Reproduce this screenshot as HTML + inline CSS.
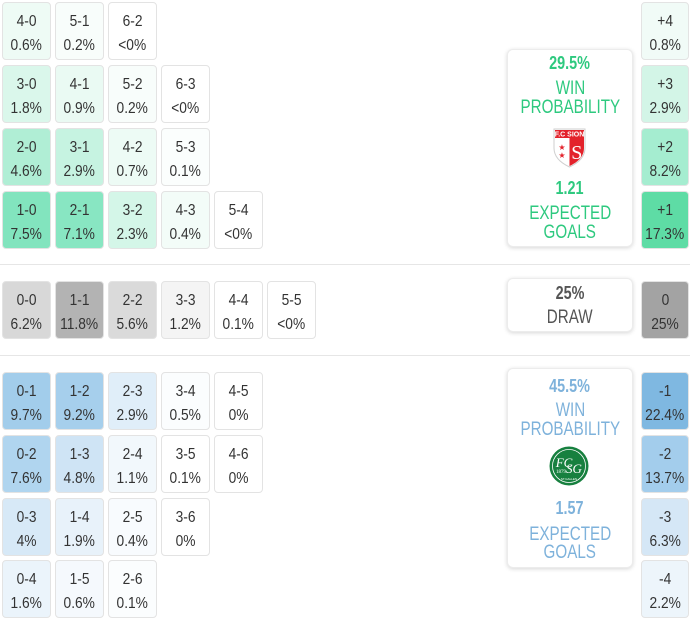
<!DOCTYPE html>
<html><head><meta charset="utf-8">
<style>
html,body{margin:0;padding:0;background:#fff;}
body{width:690px;height:621px;position:relative;overflow:hidden;font-family:"Liberation Sans",Arial,sans-serif;}
.c{position:absolute;width:49px;height:58px;box-sizing:border-box;border:1px solid #e3e3e3;border-radius:4px;text-align:center;color:#333;font-size:16px;line-height:24px;padding-top:7px;}
.c span{display:inline-block;transform:scaleX(.86);}
.r{width:48px;}
.sep{position:absolute;left:0;width:690px;height:1px;background:#e6e6e6;}
.box{position:absolute;left:507px;width:126px;box-sizing:border-box;background:#fff;border:1px solid #ececec;border-radius:6px;box-shadow:0 1px 4px rgba(0,0,0,.16);}
.t{position:absolute;left:507px;width:126px;text-align:center;white-space:nowrap;}
.t span{display:inline-block;transform:scaleX(.8);}
.g{color:#2ec97f;}
.b{color:#7eb2db;}
.k{color:#555;}
.big{font-size:18px;font-weight:bold;line-height:20px;}
.lab{font-size:19px;line-height:20px;}
</style></head><body>

<!-- home win rows -->
<div class="c" style="left:2px;top:2px;background:#eefbf5"><span>4-0</span><br><span>0.6%</span></div>
<div class="c" style="left:55px;top:2px;background:#f8fdfb"><span>5-1</span><br><span>0.2%</span></div>
<div class="c" style="left:108px;top:2px;background:#fff"><span>6-2</span><br><span>&lt;0%</span></div>

<div class="c" style="left:2px;top:65px;background:#daf7eb"><span>3-0</span><br><span>1.8%</span></div>
<div class="c" style="left:55px;top:65px;background:#eafaf3"><span>4-1</span><br><span>0.9%</span></div>
<div class="c" style="left:108px;top:65px;background:#f8fdfb"><span>5-2</span><br><span>0.2%</span></div>
<div class="c" style="left:161px;top:65px;background:#fff"><span>6-3</span><br><span>&lt;0%</span></div>

<div class="c" style="left:2px;top:128px;background:#b0eed5"><span>2-0</span><br><span>4.6%</span></div>
<div class="c" style="left:55px;top:128px;background:#c6f3e1"><span>3-1</span><br><span>2.9%</span></div>
<div class="c" style="left:108px;top:128px;background:#edfbf5"><span>4-2</span><br><span>0.7%</span></div>
<div class="c" style="left:161px;top:128px;background:#fbfefd"><span>5-3</span><br><span>0.1%</span></div>

<div class="c" style="left:2px;top:191px;background:#82e4be"><span>1-0</span><br><span>7.5%</span></div>
<div class="c" style="left:55px;top:191px;background:#88e6c2"><span>2-1</span><br><span>7.1%</span></div>
<div class="c" style="left:108px;top:191px;background:#d4f6e8"><span>3-2</span><br><span>2.3%</span></div>
<div class="c" style="left:161px;top:191px;background:#f3fcf8"><span>4-3</span><br><span>0.4%</span></div>
<div class="c" style="left:214px;top:191px;background:#fff"><span>5-4</span><br><span>&lt;0%</span></div>

<!-- right green -->
<div class="c r" style="left:641px;top:2px;background:#f1fbf7"><span>+4</span><br><span>0.8%</span></div>
<div class="c r" style="left:641px;top:65px;background:#d3f5e7"><span>+3</span><br><span>2.9%</span></div>
<div class="c r" style="left:641px;top:128px;background:#a5edd0"><span>+2</span><br><span>8.2%</span></div>
<div class="c r" style="left:641px;top:191px;background:#5edca5"><span>+1</span><br><span>17.3%</span></div>

<div class="sep" style="top:264px"></div>

<!-- draws -->
<div class="c" style="left:2px;top:281px;background:#d8d8d8"><span>0-0</span><br><span>6.2%</span></div>
<div class="c" style="left:55px;top:281px;background:#b3b3b3"><span>1-1</span><br><span>11.8%</span></div>
<div class="c" style="left:108px;top:281px;background:#dadada"><span>2-2</span><br><span>5.6%</span></div>
<div class="c" style="left:161px;top:281px;background:#f4f4f4"><span>3-3</span><br><span>1.2%</span></div>
<div class="c" style="left:214px;top:281px;background:#fff"><span>4-4</span><br><span>0.1%</span></div>
<div class="c" style="left:267px;top:281px;background:#fff"><span>5-5</span><br><span>&lt;0%</span></div>
<div class="c r" style="left:641px;top:281px;background:#a3a3a3"><span>0</span><br><span>25%</span></div>

<div class="sep" style="top:355px"></div>

<!-- away wins -->
<div class="c" style="left:2px;top:372px;background:#a2cdeb"><span>0-1</span><br><span>9.7%</span></div>
<div class="c" style="left:55px;top:372px;background:#a6cfec"><span>1-2</span><br><span>9.2%</span></div>
<div class="c" style="left:108px;top:372px;background:#e0eef9"><span>2-3</span><br><span>2.9%</span></div>
<div class="c" style="left:161px;top:372px;background:#fbfdfe"><span>3-4</span><br><span>0.5%</span></div>
<div class="c" style="left:214px;top:372px;background:#fff"><span>4-5</span><br><span>0%</span></div>

<div class="c" style="left:2px;top:435px;background:#b0d5ef"><span>0-2</span><br><span>7.6%</span></div>
<div class="c" style="left:55px;top:435px;background:#cfe4f5"><span>1-3</span><br><span>4.8%</span></div>
<div class="c" style="left:108px;top:435px;background:#f2f8fc"><span>2-4</span><br><span>1.1%</span></div>
<div class="c" style="left:161px;top:435px;background:#fff"><span>3-5</span><br><span>0.1%</span></div>
<div class="c" style="left:214px;top:435px;background:#fff"><span>4-6</span><br><span>0%</span></div>

<div class="c" style="left:2px;top:498px;background:#d7e9f7"><span>0-3</span><br><span>4%</span></div>
<div class="c" style="left:55px;top:498px;background:#e8f2fa"><span>1-4</span><br><span>1.9%</span></div>
<div class="c" style="left:108px;top:498px;background:#f8fbfe"><span>2-5</span><br><span>0.4%</span></div>
<div class="c" style="left:161px;top:498px;background:#fff"><span>3-6</span><br><span>0%</span></div>

<div class="c" style="left:2px;top:560px;background:#ebf4fb"><span>0-4</span><br><span>1.6%</span></div>
<div class="c" style="left:55px;top:560px;background:#f5f9fd"><span>1-5</span><br><span>0.6%</span></div>
<div class="c" style="left:108px;top:560px;background:#fbfdfe"><span>2-6</span><br><span>0.1%</span></div>

<!-- right blue -->
<div class="c r" style="left:641px;top:372px;background:#7fb8e1"><span>-1</span><br><span>22.4%</span></div>
<div class="c r" style="left:641px;top:435px;background:#a3cdec"><span>-2</span><br><span>13.7%</span></div>
<div class="c r" style="left:641px;top:498px;background:#d5e7f6"><span>-3</span><br><span>6.3%</span></div>
<div class="c r" style="left:641px;top:560px;background:#edf5fb"><span>-4</span><br><span>2.2%</span></div>

<!-- home box -->
<div class="box" style="top:49px;height:198px"></div>
<div class="t g big" style="top:53px"><span>29.5%</span></div>
<div class="t g lab" style="top:79px"><span>WIN</span></div>
<div class="t g lab" style="top:98px"><span>PROBABILITY</span></div>
<svg style="position:absolute;left:553px;top:128px" width="33" height="40" viewBox="0 0 33 40">
  <path d="M1,1 H32 V20 C32,30 24,35.5 16.5,39 C9,35.5 1,30 1,20 Z" fill="#fff" stroke="#cfcfcf" stroke-width="1"/>
  <path d="M16.5,9 H31 V20 C31,29 24,34.5 16.5,38 Z" fill="#e3222b"/>
  <rect x="2" y="2" width="29" height="8" fill="#e3222b"/>
  <text x="16.5" y="8.3" font-family="Liberation Sans,sans-serif" font-size="7" font-weight="bold" fill="#fff" text-anchor="middle">F.C SION</text>
  <text x="23.8" y="31" font-family="Liberation Serif,serif" font-size="20" fill="#fff" text-anchor="middle">S</text>
  <text x="9" y="22" font-family="DejaVu Sans,sans-serif" font-size="8" fill="#e3222b" text-anchor="middle">★</text>
  <text x="9" y="30" font-family="DejaVu Sans,sans-serif" font-size="8" fill="#e3222b" text-anchor="middle">★</text>
</svg>
<div class="t g big" style="top:178px"><span>1.21</span></div>
<div class="t g lab" style="top:204px"><span>EXPECTED</span></div>
<div class="t g lab" style="top:223px"><span>GOALS</span></div>

<!-- draw box -->
<div class="box" style="top:278px;height:54px"></div>
<div class="t k big" style="top:283px"><span>25%</span></div>
<div class="t k lab" style="top:308px"><span>DRAW</span></div>

<!-- away box -->
<div class="box" style="top:368px;height:200px"></div>
<div class="t b big" style="top:376px"><span>45.5%</span></div>
<div class="t b lab" style="top:401px"><span>WIN</span></div>
<div class="t b lab" style="top:420px"><span>PROBABILITY</span></div>
<svg style="position:absolute;left:549px;top:446px" width="40" height="40" viewBox="0 0 40 40">
  <circle cx="20" cy="20" r="19.5" fill="#17803f"/>
  <circle cx="20" cy="20" r="16.5" fill="none" stroke="#fff" stroke-width="0.8"/>
  <text x="15" y="21" font-family="Liberation Serif,serif" font-style="italic" font-size="13" fill="#fff" text-anchor="middle">FC</text>
  <text x="25" y="27" font-family="Liberation Serif,serif" font-style="italic" font-size="13" fill="#fff" text-anchor="middle">SG</text>
  <text x="12" y="27" font-family="Liberation Serif,serif" font-size="5" fill="#fff" text-anchor="middle">1879</text>
  <text x="20" y="34" font-family="Liberation Sans,sans-serif" font-size="3" fill="#fff" text-anchor="middle">ST.GALLEN</text>
</svg>
<div class="t b big" style="top:498px"><span>1.57</span></div>
<div class="t b lab" style="top:525px"><span>EXPECTED</span></div>
<div class="t b lab" style="top:543px"><span>GOALS</span></div>

</body></html>
